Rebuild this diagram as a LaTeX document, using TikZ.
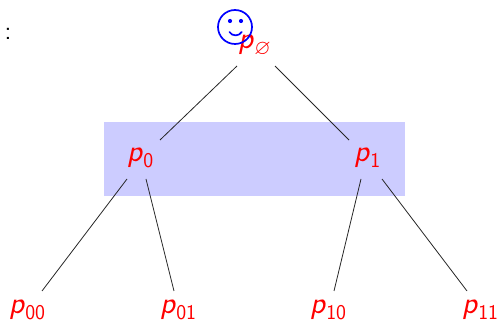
\documentclass[tikz,border=0pt]{standalone}
\usepackage{amssymb}
\usepackage{fontspec}
\newcommand{\plab}[1]{\textit{p}\raisebox{-6pt}{\fontsize{21}{21}\selectfont #1}}
\tikzset{
  x=1pt,y=-1pt,
  lab/.style={text=red,font=\sffamily\fontsize{31}{31}\selectfont,inner sep=0pt,anchor=base west},
  edge/.style={draw=black!85,line width=0.8pt},
  face/.style={draw=blue,line width=1.7pt}
}
\begin{document}
\begin{tikzpicture}
\useasboundingbox (0,0) rectangle (498,320);
\fill[blue!20] (104,122) rectangle (405,196);
\node[font=\sffamily\fontsize{26}{26}\selectfont,inner sep=0pt,anchor=base] (colon) at (8,40) {:};
\node[lab] (root) at (238,49) {\plab{$\varnothing$}};
\node[lab] (p0) at (127,162) {\plab{0}};
\node[lab] (p1) at (354,162) {\plab{1}};
\node[lab] (p00) at (9,313) {\plab{00}};
\node[lab] (p01) at (160,313) {\plab{01}};
\node[lab] (p10) at (310,313) {\plab{10}};
\node[lab] (p11) at (462,313) {\plab{11}};
\draw[edge] ([shift={(-1,17)}]root.base west) -- ([shift={(33,-22)}]p0.base west);
\draw[edge] ([shift={(37,17)}]root.base west) -- ([shift={(-5,-22)}]p1.base west);
\draw[edge] ([shift={(0,17)}]p0.base west) -- ([shift={(33,-22)}]p00.base west);
\draw[edge] ([shift={(19,17)}]p0.base west) -- ([shift={(14,-22)}]p01.base west);
\draw[edge] ([shift={(7,17)}]p1.base west) -- ([shift={(24,-22)}]p10.base west);
\draw[edge] ([shift={(28,17)}]p1.base west) -- ([shift={(5,-22)}]p11.base west);
\draw[face] (235,27) circle (17);
\fill[blue] (230,21) circle (2.1) (241,21) circle (2.1);
\draw[face,line cap=round] (229.5,32) .. controls (232,36.5) and (239,36.5) .. (241.7,32);
\end{tikzpicture}
\end{document}
